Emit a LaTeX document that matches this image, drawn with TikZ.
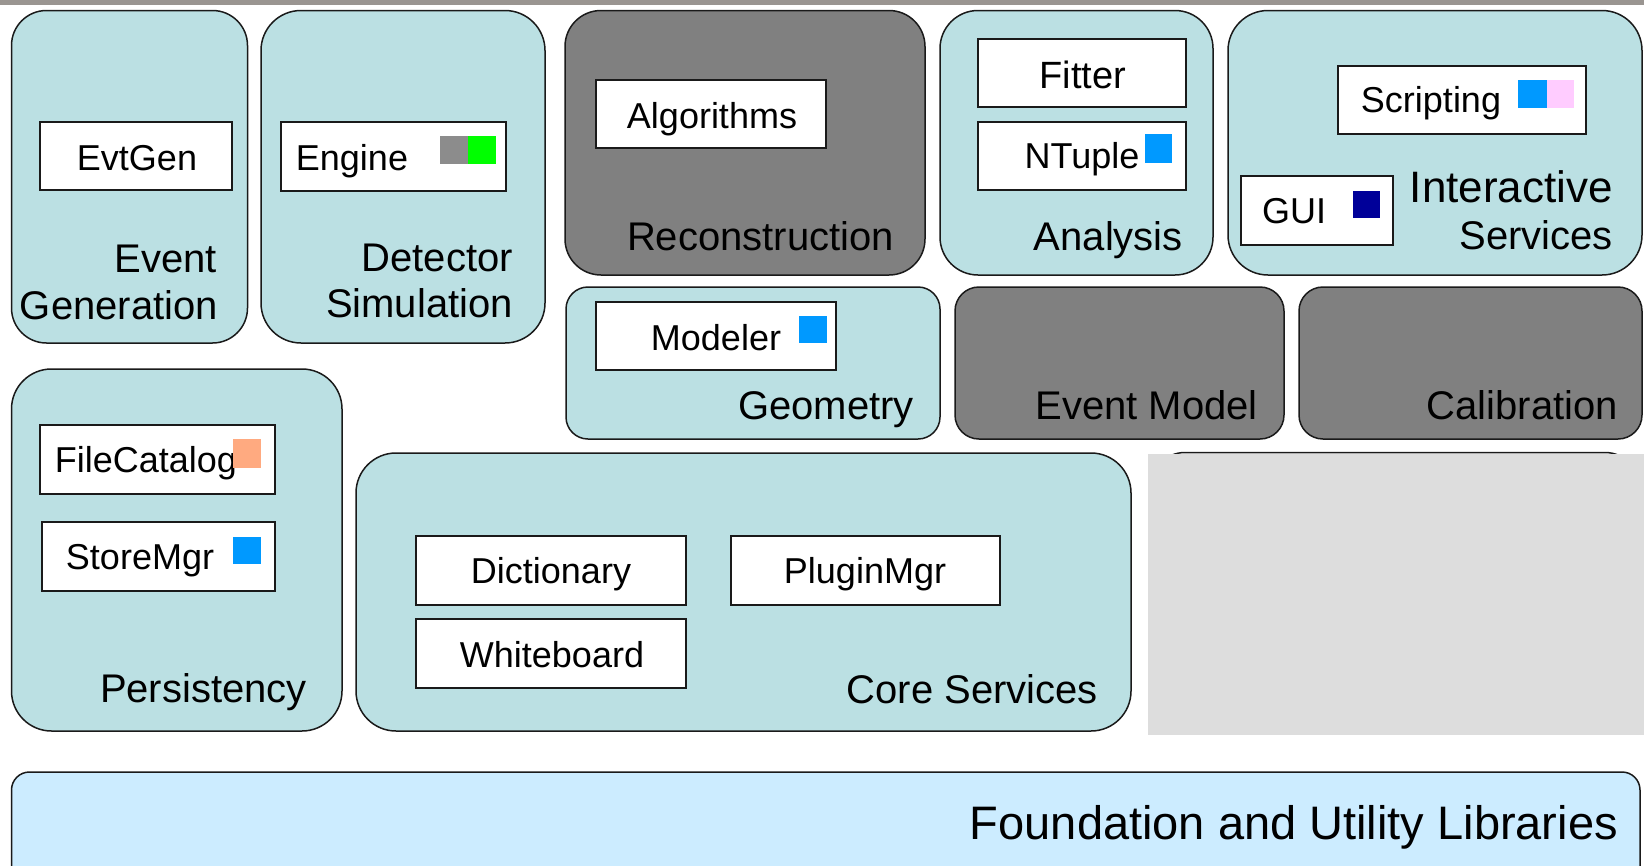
\documentclass[tikz,border=0pt]{standalone}
\usepackage{fontspec}
\setmainfont{Liberation Sans}
\usetikzlibrary{fit}
\definecolor{grpfill}{HTML}{BBE0E3}
\definecolor{darkfill}{HTML}{808080}
\definecolor{basefill}{HTML}{CCECFF}
\definecolor{tagblue}{HTML}{0099FF}
\definecolor{tagnavy}{HTML}{000099}
\definecolor{tagpink}{HTML}{FFCCFF}
\definecolor{taggreen}{HTML}{00FF00}
\definecolor{taggray}{HTML}{8C8C8C}
\definecolor{tagorange}{HTML}{FFAA80}
\definecolor{panelgray}{HTML}{DDDDDD}
\definecolor{topbar}{HTML}{9A9591}
\definecolor{edge}{HTML}{1A1A1A}
\tikzset{
  grp/.style={draw=edge, line width=1.5pt, fill=grpfill, inner sep=0pt, rounded corners=#1},
  grp/.default=35pt,
  dgrp/.style={grp=#1, fill=darkfill},
  dgrp/.default=35pt,
  comp/.style={draw=edge, line width=1.5pt, fill=white, inner sep=0pt},
  tag/.style={inner sep=0pt, draw=none},
  lbl/.style={inner sep=0pt, font=\fontsize{40}{48}\selectfont},
  clbl/.style={inner sep=0pt, anchor=base, font=\fontsize{36}{43}\selectfont},
}
\begin{document}
\begin{tikzpicture}[x=1pt, y=-1pt]
\useasboundingbox (0,0) rectangle (1644,865);
\clip (0,0) rectangle (1644,865);
\fill[white] (0,0) rectangle (1644,865);
\fill[topbar] (0,0) rectangle (1644,4.5);

% upper row of packages
\node[grp=35pt, fit={(11.5,10.5) (247.5,343)}] (evgen) {};
\node[grp=40pt, fit={(261,10.5) (545,343)}] (detsim) {};
\node[dgrp=36pt, fit={(565,10.5) (925,275)}] (reco) {};
\node[grp=38pt, fit={(940,10.5) (1213,275)}] (ana) {};
\node[grp=40pt, fit={(1228,10.5) (1642,275)}] (inter) {};

% middle row
\node[grp=22pt, fit={(566,287) (940,439)}] (geom) {};
\node[dgrp=24pt, fit={(955,287) (1284,439)}] (evmodel) {};
\node[dgrp=24pt, fit={(1299,287) (1642,439)}] (calib) {};

% lower row
\node[grp=40pt, fit={(11.5,369) (342,731)}] (persist) {};
\node[grp=40pt, fit={(356,453) (1131,731)}] (core) {};
\node[draw=edge, line width=1.5pt, inner sep=0pt, rounded corners=35pt, fit={(1150,452.5) (1640,720)}] (hidden) {};
\node[fill=panelgray, inner sep=0pt, fit={(1148,454) (1644,735)}] (panel) {};

% foundation layer
\node[grp=18pt, fill=basefill, fit={(11.5,772) (1640,900)}] (found) {};

% components
\node[comp, fit={(40,122) (232,190)}] (evtgen) {};
\node[clbl] (evtgenT) at (137,170) {EvtGen};

\node[comp, fit={(281,122) (506,191)}] (engine) {};
\node[clbl] (engineT) at (352,170) {Engine};
\node[tag, fill=taggray, fit={(440,136) (468,164)}] (engineTagA) {};
\node[tag, fill=taggreen, fit={(468,136) (496,164)}] (engineTagB) {};

\node[comp, fit={(596,80) (826,148)}] (algo) {};
\node[clbl] (algoT) at (712,128) {Algorithms};

\node[comp, fit={(978,39) (1186,107)}] (fitter) {};
\node[clbl, font=\fontsize{38}{45}\selectfont] (fitterT) at (1083,88) {Fitter};

\node[comp, fit={(978,122) (1186,190)}] (ntuple) {};
\node[clbl] (ntupleT) at (1082,168) {NTuple};
\node[tag, fill=tagblue, fit={(1145,134) (1172,163)}] (ntupleTag) {};

\node[comp, fit={(1338,66) (1586,134)}] (script) {};
\node[clbl] (scriptT) at (1431,112) {Scripting};
\node[tag, fill=tagblue, fit={(1518,80) (1547,108)}] (scriptTagA) {};
\node[tag, fill=tagpink, fit={(1547,80) (1574,108)}] (scriptTagB) {};

\node[comp, fit={(1241,176) (1393,245)}] (gui) {};
\node[clbl] (guiT) at (1294,223) {GUI};
\node[tag, fill=tagnavy, fit={(1353,191) (1380,218)}] (guiTag) {};

\node[comp, fit={(596,302) (836,370)}] (modeler) {};
\node[clbl] (modelerT) at (716,350) {Modeler};
\node[tag, fill=tagblue, fit={(799,316) (827,343)}] (modelerTag) {};

\node[comp, fit={(40,425) (275,494)}] (filecat) {};
\node[clbl] (filecatT) at (146,472) {FileCatalog};
\node[tag, fill=tagorange, fit={(233,439) (261,468)}] (filecatTag) {};

\node[comp, fit={(42,522) (275,591)}] (storemgr) {};
\node[clbl] (storemgrT) at (140,569) {StoreMgr};
\node[tag, fill=tagblue, fit={(233,537) (261,564)}] (storemgrTag) {};

\node[comp, fit={(416,536) (686,605)}] (dict) {};
\node[clbl] (dictT) at (551,583) {Dictionary};

\node[comp, fit={(416,619) (686,688)}] (white) {};
\node[clbl] (whiteT) at (552,667) {Whiteboard};

\node[comp, fit={(731,536) (1000,605)}] (plugin) {};
\node[clbl] (pluginT) at (865,583) {PluginMgr};

% package titles
\node[lbl, anchor=base east] (evgenT1) at (217,272) {Event};
\node[lbl, anchor=base east] (evgenT2) at (218,319) {Generation};
\node[lbl, anchor=base east] (detsimT1) at (513,271) {Detector};
\node[lbl, anchor=base east] (detsimT2) at (513,317) {Simulation};
\node[lbl, anchor=base east] (recoT) at (894,250) {Reconstruction};
\node[lbl, anchor=base east] (anaT) at (1183,250) {Analysis};
\node[lbl, anchor=base east, font=\fontsize{44}{52}\selectfont] (interT1) at (1613,202) {Interactive};
\node[lbl, anchor=base east] (interT2) at (1613,249) {Services};
\node[lbl, anchor=base east] (geomT) at (914,419) {Geometry};
\node[lbl, anchor=base east] (evmodelT) at (1258,419) {Event Model};
\node[lbl, anchor=base east] (calibT) at (1618,419) {Calibration};
\node[lbl, anchor=base east] (persistT) at (307,702) {Persistency};
\node[lbl, anchor=base east] (coreT) at (1098,703) {Core Services};
\node[lbl, anchor=base east, font=\fontsize{47}{56}\selectfont] (foundT) at (1618,839) {Foundation and Utility Libraries};
\end{tikzpicture}
\end{document}
